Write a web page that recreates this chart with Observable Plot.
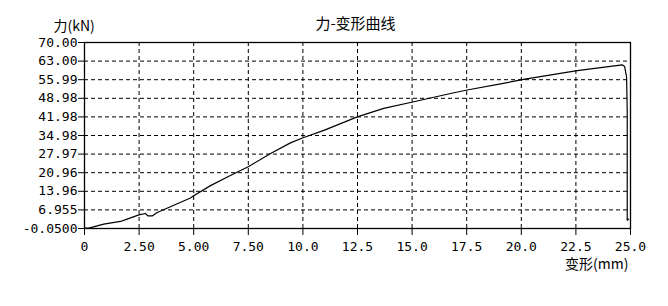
<!DOCTYPE html>
<html>
<head>
<meta charset="utf-8">
<script src="https://cdn.jsdelivr.net/npm/d3@7"></script>
<script src="https://cdn.jsdelivr.net/npm/@observablehq/plot@0.6"></script>
<style>
  html, body { margin: 0; padding: 0; background: #fff; }
  #chart svg { display: block; }
</style>
</head>
<body>
<div id="chart"></div>
<script>
const title = "力-变形曲线";
const yTitle = "力(kN)";
const xTitle = "变形(mm)";

const xTicks = [0, 2.5, 5, 7.5, 10, 12.5, 15, 17.5, 20, 22.5, 25];
const xTickLabels = ["0", "2.50", "5.00", "7.50", "10.0", "12.5", "15.0", "17.5", "20.0", "22.5", "25.0"];
const yTicks = [-0.05, 6.955, 13.96, 20.965, 27.97, 34.975, 41.98, 48.985, 55.99, 62.995, 70.0];
const yTickLabels = ["-0.0500", "6.955", "13.96", "20.96", "27.97", "34.98", "41.98", "48.98", "55.99", "63.00", "70.00"];

const deformation = [0.05, 0.2, 0.88, 1.65, 1.95, 2.49, 2.79, 2.9, 3.1, 3.33, 4.85, 5.0, 5.77, 6.68, 7.52, 8.52, 9.43, 10.04, 10.96, 12.49, 13.7, 15.08, 16.76, 17.52, 19.05, 20.1, 22.56, 24.62, 24.73, 24.82, 24.85, 24.85, 24.92];
const force = [0.1, 0.1, 1.6, 2.6, 3.5, 5.1, 5.6, 4.7, 4.7, 6.0, 11.46, 12.3, 16.1, 19.9, 23.3, 28.2, 32.2, 34.2, 36.9, 42.0, 45.2, 47.7, 50.8, 52.1, 54.4, 56.1, 59.4, 61.6, 61.0, 57.1, 44.5, 3.1, 3.5];

const data = deformation.map((d, i) => ({x: d, y: force[i]}));
const cjk = "'Noto Sans CJK SC', sans-serif";
const dash = "4,3";

const chart = Plot.plot({
  width: 668,
  height: 306,
  marginLeft: 84,
  marginRight: 38,
  marginTop: 42,
  marginBottom: 78,
  style: {fontFamily: "'DejaVu Sans Mono', monospace", fontSize: "13px", color: "#000", background: "#fff"},
  x: {domain: [0, 25]},
  y: {domain: [-0.05, 70]},
  marks: [
    Plot.gridX(xTicks.slice(1, -1), {stroke: "#000", strokeOpacity: 1, strokeDasharray: dash}),
    Plot.gridY(yTicks.slice(1, -1), {stroke: "#000", strokeOpacity: 1, strokeDasharray: dash}),
    Plot.frame({stroke: "#000", strokeWidth: 1.3}),
    Plot.axisX(xTicks, {tickFormat: (d, i) => xTickLabels[i], tickSize: 7, tickPadding: 6, label: null, fontSize: 13}),
    Plot.axisY(yTicks, {tickFormat: (d, i) => yTickLabels[i], tickSize: 6, tickPadding: 1, label: null, fontSize: 13}),
    Plot.line(data, {x: "x", y: "y", stroke: "#000", strokeWidth: 1.2, curve: "linear"}),
    Plot.text([title], {frameAnchor: "top", dx: -2, dy: -24, fontFamily: cjk, fontSize: 15, fill: "#000"}),
    Plot.text([yTitle], {frameAnchor: "top-left", dx: -31, dy: -21, textAnchor: "start", fontFamily: cjk, fontSize: 14, fill: "#000"}),
    Plot.text([xTitle], {frameAnchor: "bottom-right", dx: -2, dy: 40, textAnchor: "end", fontFamily: cjk, fontSize: 14, fill: "#000"})
  ]
});
document.getElementById("chart").appendChild(chart);
</script>
</body>
</html>
